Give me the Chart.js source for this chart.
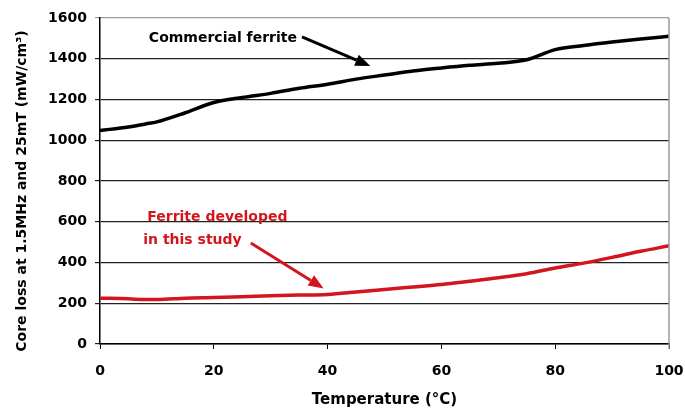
<!DOCTYPE html>
<html>
<head>
<meta charset="utf-8">
<script src="https://cdn.jsdelivr.net/npm/chart.js@4.4.0/dist/chart.umd.min.js"></script>
<style>
  html, body { margin: 0; padding: 0; background: #fff; }
  #wrap { width: 685px; height: 415px; }
</style>
</head>
<body>
<div id="wrap"><canvas id="c" width="685" height="415"></canvas></div>
<script>
// ---- data ----
const temperature    = [0, 5, 8, 10, 15, 20, 25, 30, 35, 40, 45, 50, 55, 60, 65, 70, 75, 80, 85, 90, 95, 100];
const commercialLoss = [1048, 1065, 1080, 1090, 1135, 1185, 1210, 1230, 1255, 1275, 1300, 1320, 1340, 1355, 1368, 1378, 1395, 1445, 1465, 1482, 1497, 1510];
const developedLoss  = [225, 222, 218, 218, 225, 228, 232, 237, 240, 243, 255, 268, 280, 292, 308, 325, 345, 373, 397, 425, 455, 482];
const xTickStep = 20;
const yTickStep = 200;
const commercialLabel = 'Commercial ferrite';
const developedLabel = ['Ferrite developed', 'in this study'];
const xTitle = 'Temperature (°C)';
const yTitle = 'Core loss at 1.5MHz and 25mT (mW/cm³)';

const FONT = 'DejaVu Sans';
const RED = '#d3161e';

const toXY = (xs, ys) => xs.map((x, i) => ({ x, y: ys[i] }));

function arrow(ctx, x1, y1, x2, y2, color, width) {
  const ang = Math.atan2(y2 - y1, x2 - x1);
  const headLen = 15, headW = 6;
  const bx = x2 - headLen * Math.cos(ang), by = y2 - headLen * Math.sin(ang);
  ctx.save();
  ctx.strokeStyle = color; ctx.fillStyle = color; ctx.lineWidth = width;
  ctx.beginPath(); ctx.moveTo(x1, y1); ctx.lineTo(bx, by); ctx.stroke();
  ctx.beginPath();
  ctx.moveTo(x2, y2);
  ctx.lineTo(bx + headW * Math.sin(ang), by - headW * Math.cos(ang));
  ctx.lineTo(bx - headW * Math.sin(ang), by + headW * Math.cos(ang));
  ctx.closePath(); ctx.fill();
  ctx.restore();
}

const annotations = {
  id: 'annotations',
  afterDatasetsDraw(chart) {
    const { ctx, chartArea: a, scales: { x, y } } = chart;
    // right border of plot area
    ctx.save();
    ctx.strokeStyle = '#9a9a9a'; ctx.lineWidth = 1.5;
    ctx.beginPath(); ctx.moveTo(a.right, a.top); ctx.lineTo(a.right, a.bottom + 5); ctx.stroke();
    ctx.restore();

    // y-axis title (slightly below plot centre, as in the reference)
    ctx.save();
    ctx.font = `bold 14px "${FONT}"`;
    ctx.fillStyle = '#000';
    ctx.textAlign = 'center';
    ctx.textBaseline = 'middle';
    ctx.translate(22, (a.top + a.bottom) / 2 + 10);
    ctx.rotate(-Math.PI / 2);
    ctx.fillText(yTitle, 0, 0);
    ctx.restore();

    ctx.save();
    ctx.font = `bold 14px "${FONT}"`;
    ctx.textBaseline = 'middle';
    // commercial ferrite label + arrow
    ctx.fillStyle = '#000';
    ctx.textAlign = 'center';
    ctx.fillText(commercialLabel, x.getPixelForValue(21.6), y.getPixelForValue(1502));
    arrow(ctx, x.getPixelForValue(35.5), y.getPixelForValue(1507), x.getPixelForValue(47.5), y.getPixelForValue(1364), '#000', 3);

    // developed ferrite label (white backing covers the gridline)
    const lx = x.getPixelForValue(7.6);
    const w1 = ctx.measureText(developedLabel[0]).width;
    const y1 = y.getPixelForValue(623), y2 = y.getPixelForValue(510);
    ctx.fillStyle = '#fff';
    ctx.fillRect(lx - 6, y1 - 9, w1 + 22, 12);
    ctx.fillStyle = RED;
    ctx.textAlign = 'left';
    ctx.fillText(developedLabel[0], lx + 4, y1);
    ctx.fillText(developedLabel[1], lx, y2);
    arrow(ctx, x.getPixelForValue(26.5), y.getPixelForValue(496), x.getPixelForValue(39.3), y.getPixelForValue(273), RED, 3);
    ctx.restore();
  }
};

new Chart(document.getElementById('c'), {
  type: 'line',
  data: {
    datasets: [
      {
        label: commercialLabel,
        data: toXY(temperature, commercialLoss),
        borderColor: '#000',
        borderWidth: 3.5,
        pointRadius: 0,
        tension: 0.3,
        cubicInterpolationMode: 'monotone'
      },
      {
        label: developedLabel.join(' '),
        data: toXY(temperature, developedLoss),
        borderColor: RED,
        borderWidth: 3.5,
        pointRadius: 0,
        tension: 0.3,
        cubicInterpolationMode: 'monotone'
      }
    ]
  },
  options: {
    responsive: false,
    animation: false,
    layout: { padding: { left: 8, right: 16, top: 18, bottom: 0 } },
    plugins: { legend: { display: false }, tooltip: { enabled: false } },
    scales: {
      x: {
        type: 'linear', min: 0, max: 100,
        afterFit: s => { s.height = 71; s.paddingRight = 0; s.paddingLeft = 0; },
        ticks: { stepSize: xTickStep, color: '#000', padding: 14, callback: v => String(v), font: { family: FONT, weight: 'bold', size: 14 } },
        grid: { drawOnChartArea: false, drawTicks: true, tickLength: 5, color: '#000' },
        border: { color: '#000', width: 1.5 },
        title: { display: true, text: xTitle, color: '#000', padding: { top: 0, bottom: 6 }, font: { family: FONT, weight: 'bold', size: 15 } }
      },
      y: {
        min: 0, max: 1600,
        afterFit: s => { s.width = 92; },
        ticks: { stepSize: yTickStep, color: '#000', padding: 8, callback: v => String(v), font: { family: FONT, weight: 'bold', size: 14 } },
        grid: {
          color: ctx => (ctx.tick && ctx.tick.value === 1600 ? '#9a9a9a' : '#222'),
          lineWidth: 1.2, tickLength: 5, drawTicks: true
        },
        border: { color: '#000', width: 1.5 },
        title: { display: false }
      }
    }
  },
  plugins: [annotations]
});
</script>
</body>
</html>
